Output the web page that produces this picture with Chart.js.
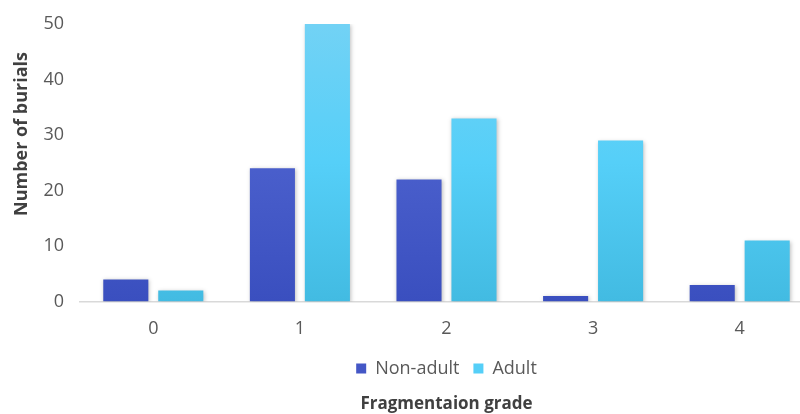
<!DOCTYPE html>
<html>
<head>
<meta charset="utf-8">
<script src="https://cdn.jsdelivr.net/npm/chart.js@4"></script>
<style>
  html, body { margin: 0; padding: 0; background: #fff; overflow: hidden; }
  #wrap { width: 813px; height: 414px; }
</style>
</head>
<body>
<div id="wrap"><canvas id="fragChart"></canvas></div>
<script>
const grades = ['0', '1', '2', '3', '4'];
const nonAdult = [4, 24, 22, 1, 3];
const adult = [2, 50, 33, 29, 11];
const yTicks = [0, 10, 20, 30, 40, 50];
const yTitle = 'Number of burials';

const fontFam = '"Open Sans", Lato, sans-serif';

// vertical gradient per bar, like the office chart style
function barGradient(ctx, top, mid, bottom) {
  const chart = ctx.chart;
  const area = chart.chartArea;
  if (!area) return mid;
  const el = ctx.element;
  const y0 = el && el.y !== undefined ? el.y : area.top;
  const y1 = el && el.base !== undefined ? el.base : area.bottom;
  if (!isFinite(y0) || !isFinite(y1) || y0 === y1) return mid;
  const g = chart.ctx.createLinearGradient(0, y0, 0, y1);
  g.addColorStop(0, top);
  g.addColorStop(0.5, mid);
  g.addColorStop(1, bottom);
  return g;
}

const shadowPlugin = {
  id: 'barShadow',
  beforeDatasetsDraw(chart) {
    const c = chart.ctx;
    c.save();
    c.shadowColor = 'rgba(0,0,0,0.25)';
    c.shadowBlur = 4;
    c.shadowOffsetX = 1;
    c.shadowOffsetY = 1;
  },
  afterDatasetsDraw(chart) {
    chart.ctx.restore();
  }
};

// the y title sits a bit above the middle of the axis in the original
const yTitlePlugin = {
  id: 'yTitle',
  afterDraw(chart) {
    const c = chart.ctx;
    c.save();
    c.translate(22, 134);
    c.rotate(-Math.PI / 2);
    c.font = 'bold 18px ' + fontFam;
    c.fillStyle = '#404040';
    c.textAlign = 'center';
    c.textBaseline = 'middle';
    c.fillText(yTitle, 0, 0);
    c.restore();
  }
};

const ctx = document.getElementById('fragChart').getContext('2d');

new Chart(ctx, {
  type: 'bar',
  data: {
    labels: grades,
    datasets: [{
      label: 'Non-adult',
      data: nonAdult,
      backgroundColor: c => barGradient(c, '#6374cf', '#4a5fcc', '#3a4fbf'),
      categoryPercentage: 0.75,
      barPercentage: 0.82
    }, {
      label: 'Adult',
      data: adult,
      backgroundColor: c => barGradient(c, '#72d2f5', '#55cff8', '#42bbe2'),
      categoryPercentage: 0.75,
      barPercentage: 0.82
    }]
  },
  options: {
    responsive: true,
    maintainAspectRatio: false,
    animation: false,
    layout: { padding: { left: 14, top: 0, right: 0, bottom: 0 } },
    plugins: {
      legend: {
        position: 'bottom',
        fullSize: false,
        labels: {
          color: '#595959',
          font: { family: fontFam, size: 18 },
          boxWidth: 10,
          boxHeight: 10,
          padding: 14,
          generateLabels: chart => chart.data.datasets.map((ds, i) => ({
            text: ds.label,
            fillStyle: i === 0 ? '#4457c6' : '#55cff8',
            strokeStyle: 'transparent',
            lineWidth: 0,
            datasetIndex: i,
            fontColor: '#595959'
          }))
        }
      },
      title: {
        display: true,
        position: 'bottom',
        fullSize: false,
        text: 'Fragmentaion grade',
        color: '#404040',
        font: { family: fontFam, size: 17, weight: 'bold' },
        padding: { top: 6, bottom: 0 }
      },
      tooltip: { enabled: false }
    },
    scales: {
      x: {
        grid: { display: false, drawTicks: false },
        border: { color: '#d9d9d9', width: 1.5 },
        afterFit: axis => { axis.height = 44; },
        ticks: {
          color: '#595959',
          font: { family: fontFam, size: 18 },
          padding: 16
        }
      },
      y: {
        min: 0,
        max: 50,
        afterBuildTicks: axis => { axis.ticks = yTicks.map(v => ({ value: v })); },
        afterFit: axis => {
          axis.width = 66;
          axis.paddingTop = 24;
        },
        grid: { display: false, drawTicks: false },
        border: { display: false },
        ticks: {
          color: '#595959',
          font: { family: fontFam, size: 18 },
          padding: 16
        }
      }
    }
  },
  plugins: [shadowPlugin, yTitlePlugin]
});
</script>
</body>
</html>
